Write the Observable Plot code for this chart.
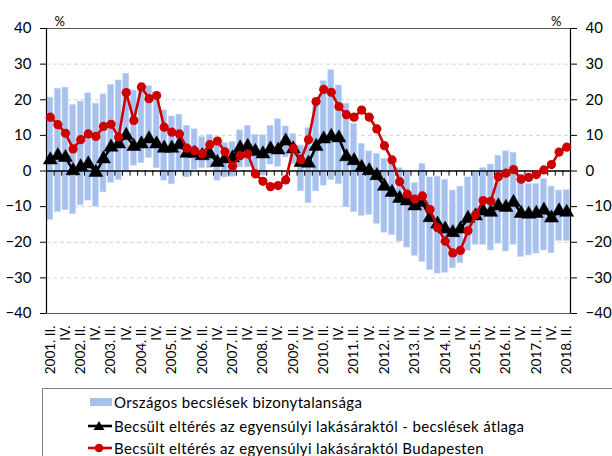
<!DOCTYPE html>
<html>
<head>
<meta charset="utf-8">
<script src="https://cdn.jsdelivr.net/npm/d3@7"></script>
<script src="https://cdn.jsdelivr.net/npm/@observablehq/plot@0.6"></script>
<style>
  html, body { margin: 0; padding: 0; background: #fff; width: 612px; height: 456px; overflow: hidden; }
  #chart { position: absolute; left: 0; top: 0; }
  #legend { position: absolute; left: 42px; top: 388px; width: 640px; height: 120px;
    border: 1px solid #7f7f7f; font-family: Lato, "Open Sans", sans-serif; font-size: 15px; letter-spacing: 0.35px; color: #000; }
  .item { position: absolute; left: 45px; height: 20px; display: flex; align-items: center; white-space: nowrap; }
  .item svg { margin-right: 1px; }
</style>
</head>
<body>
<div id="chart"></div>
<div id="legend"></div>
<script>
// Quarters 2001 Q2 .. 2018 Q2 (index 0..68)
const tickLabels = [
  "2001. II.","IV.","2002. II.","IV.","2003. II.","IV.","2004. II.","IV.","2005. II.","IV.",
  "2006. II.","IV.","2007. II.","IV.","2008. II.","IV.","2009. II.","IV.","2010. II.","IV.",
  "2011. II.","IV.","2012. II.","IV.","2013. II.","IV.","2014. II.","IV.","2015. II.","IV.",
  "2016. II.","IV.","2017. II.","IV.","2018. II."
];
// Uncertainty band of national estimates (upper / lower)
const bandUpper = [
  20.6,23.1,23.4,18.5,19.5,21.8,18.9,21.5,24.2,25.4,
  27.3,22.6,24.0,23.8,21.0,17.0,15.3,15.8,12.7,11.7,
  9.5,10.1,7.6,7.8,8.1,11.4,12.7,10.1,10.0,12.7,
  14.5,12.5,10.4,7.1,12.0,20.0,25.2,28.3,24.0,18.9,
  13.2,7.6,5.5,4.8,3.4,2.3,0.8,-0.4,-3.4,2.0,
  -1.8,-1.6,-2.5,-5.5,-4.4,-1.8,-0.1,0.8,1.8,4.3,
  5.5,5.1,-1.0,-3.7,-3.7,-2.3,-4.4,-5.5,-5.4
];
const bandLower = [
  -13.7,-11.5,-11.0,-12.1,-9.6,-8.3,-10.0,-6.0,-3.3,-2.5,
  -0.4,1.5,2.2,3.7,0.8,-2.7,-3.7,-0.2,-1.8,0.3,
  0.8,0.8,-2.7,-1.8,-1.6,1.0,1.0,-1.3,-1.3,1.8,
  1.2,3.8,2.0,-5.7,-9.0,-5.7,-4.1,-2.5,-3.7,-10.2,
  -11.5,-12.6,-12.3,-14.8,-17.3,-18.0,-19.8,-21.5,-23.8,-25.5,
  -27.8,-28.8,-28.6,-27.3,-25.9,-22.4,-20.7,-20.7,-22.3,-20.4,
  -22.6,-20.7,-24.1,-23.7,-23.2,-22.3,-23.1,-19.6,-19.6
];
// Average of estimates (black)
const avgGap = [
  3.1,4.3,3.8,0.1,1.2,2.0,-0.4,3.4,6.7,7.6,
  10.0,6.9,7.6,9.0,7.6,6.4,6.4,7.4,5.0,5.0,
  4.3,4.8,2.4,3.4,3.7,6.5,6.9,5.5,4.8,6.2,
  5.9,8.4,6.2,2.4,2.2,6.9,9.0,9.7,9.3,4.0,
  2.9,1.0,0.1,-1.3,-4.3,-6.0,-7.7,-8.4,-9.8,-8.8,
  -13.1,-14.9,-16.3,-17.3,-16.3,-13.3,-12.6,-11.2,-11.6,-9.8,
  -10.2,-8.8,-11.9,-12.1,-11.9,-11.0,-13.2,-11.2,-11.6
];
// Budapest (red)
const budapestGap = [
  15.1,13.0,10.6,6.2,8.8,10.4,9.7,12.5,13.1,9.5,
  22.0,14.2,23.6,20.3,21.2,12.3,10.9,10.4,6.4,5.7,
  4.8,7.4,8.4,5.4,1.3,4.3,4.8,-0.8,-2.9,-4.4,
  -4.1,-2.5,6.4,3.1,8.8,19.5,22.9,22.1,18.1,15.8,
  15.1,17.1,15.1,11.8,7.1,3.1,-3.0,-6.5,-7.9,-7.0,
  -10.8,-15.9,-19.7,-23.0,-22.3,-16.8,-12.3,-8.3,-8.5,-1.6,
  -0.6,0.4,-2.3,-1.8,-1.0,0.3,1.8,5.3,6.7
];
const legendLabels = [
  "Országos becslések bizonytalansága",
  "Becsült eltérés az egyensúlyi lakásáraktól - becslések átlaga",
  "Becsült eltérés az egyensúlyi lakásáraktól Budapesten"
];

const idx = d3.range(bandUpper.length);
const rows = idx.map(i => ({i, lo: bandLower[i], hi: bandUpper[i], avg: avgGap[i], bp: budapestGap[i]}));
const tickIdx = tickLabels.map((_, k) => 2 * k);
const boundaries = d3.range(idx.length + 1).map(i => i - 0.5);

const BLUE = "#a7c1ef", RED = "#cc0000";
const font = "Lato, 'Open Sans', sans-serif";

const chart = Plot.plot({
  width: 612,
  height: 386,
  marginTop: 28,
  marginBottom: 73,
  marginLeft: 46,
  marginRight: 42,
  style: {fontFamily: font, fontSize: "14px", color: "#000", background: "#fff"},
  x: {type: "linear", domain: [-0.5, idx.length - 0.5]},
  y: {domain: [-40, 40]},
  marks: [
    Plot.gridY([-30, -20, -10, 10, 20, 30], {stroke: "#d4d4d4", strokeOpacity: 1, strokeDasharray: "4,3"}),
    Plot.rectY(rows, {x1: d => d.i - 0.39, x2: d => d.i + 0.39, y1: "lo", y2: "hi", fill: BLUE, stroke: "#c3d5f5", strokeWidth: 0.6}),
    Plot.ruleY([0], {stroke: "#000", strokeWidth: 1.3}),
    Plot.ruleX(boundaries, {y1: 0, y2: -1.45, stroke: "#000", strokeWidth: 1}),
    Plot.frame({stroke: "#595959", strokeWidth: 1}),
    Plot.ruleX([-0.5, idx.length - 0.5], {stroke: "#000", strokeWidth: 1.2}),
    Plot.axisY({anchor: "left", ticks: d3.range(-40, 41, 10), tickSize: 6, tickPadding: 9, label: null, fontSize: 15}),
    Plot.axisY({anchor: "right", ticks: d3.range(-40, 41, 10), tickSize: 6, tickPadding: 9, label: null, fontSize: 15}),
    Plot.axisX({anchor: "bottom", ticks: tickIdx, tickFormat: i => tickLabels[i / 2], tickRotate: -90, tickSize: 0, tickPadding: 12, label: null, fontSize: 13.5}),
    Plot.text(["%"], {frameAnchor: "top-left", dx: 8, dy: -12, fontSize: 13}),
    Plot.text(["%"], {frameAnchor: "top-right", dx: -9, dy: -12, fontSize: 13}),
    Plot.line(rows, {x: "i", y: "avg", stroke: "#000", strokeWidth: 2.6}),
    Plot.dot(rows, {x: "i", y: "avg", symbol: "triangle", r: 5.2, fill: "#000", stroke: "#000", strokeWidth: 0.5}),
    Plot.line(rows, {x: "i", y: "bp", stroke: RED, strokeWidth: 2.6}),
    Plot.dot(rows, {x: "i", y: "bp", r: 4.6, fill: RED})
  ]
});
document.getElementById("chart").appendChild(chart);

// Legend
const legend = document.getElementById("legend");
const swatches = [
  `<svg width="24" height="10"><rect x="1" y="1" width="22" height="8" fill="${BLUE}"/></svg>`,
  `<svg width="26" height="12"><line x1="1" y1="6" x2="25" y2="6" stroke="#000" stroke-width="2.6"/><path d="M12,1 L17.5,10 L6.5,10 Z" fill="#000"/></svg>`,
  `<svg width="26" height="12"><line x1="1" y1="6" x2="25" y2="6" stroke="${RED}" stroke-width="2.6"/><circle cx="12" cy="6" r="4.3" fill="${RED}"/></svg>`
];
const tops = [3, 27, 49];
legendLabels.forEach((t, k) => {
  const el = document.createElement("div");
  el.className = "item";
  el.style.top = tops[k] + "px";
  el.style.left = (k === 0 ? 46 : 44) + "px";
  el.innerHTML = swatches[k] + `<span>${t}</span>`;
  legend.appendChild(el);
});
</script>
</body>
</html>
